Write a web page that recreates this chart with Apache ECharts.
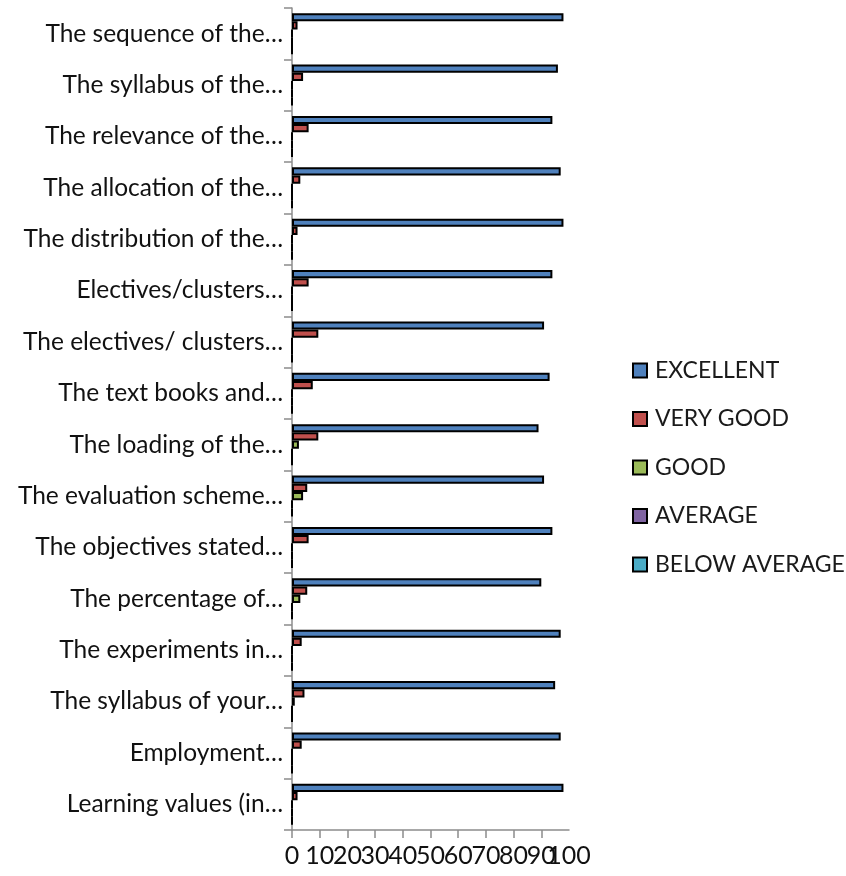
<!DOCTYPE html>
<html>
<head>
<meta charset="utf-8">
<title>Course evaluation</title>
<script src="https://cdn.jsdelivr.net/npm/echarts@6/dist/echarts.min.js"></script>
<style>
    html, body { margin: 0; padding: 0; background: #fff; }
    #chart { width: 846px; height: 876px; }
</style>
</head>
<body>
<div id="chart"></div>
<script>
// categories, top to bottom as in the picture
var categories = [
    'The sequence of the…',
    'The syllabus of the…',
    'The relevance of the…',
    'The allocation of the…',
    'The distribution of the…',
    'Electives/clusters…',
    'The electives/ clusters…',
    'The text books and…',
    'The loading of the…',
    'The evaluation scheme…',
    'The objectives stated…',
    'The percentage of…',
    'The experiments in…',
    'The syllabus of your…',
    'Employment…',
    'Learning values (in…'
];
var excellent    = [98, 96, 94, 97, 98, 94, 91, 93, 89, 91, 94, 90, 97, 95, 97, 98];
var veryGood     = [2, 4, 6, 3, 2, 6, 9.5, 7.5, 9.5, 5.5, 6, 5.5, 3.5, 4.5, 3.5, 2];
var good         = [0, 0, 0, 0, 0, 0, 0, 0, 2.5, 4, 0, 3, 0, 1, 0, 0];
var average      = [0, 0, 0, 0, 0, 0, 0, 0, 0, 0, 0, 0, 0, 0, 0, 0];
var belowAverage = [0, 0, 0, 0, 0, 0, 0, 0, 0, 0, 0, 0, 0, 0, 0, 0];

var seriesNames  = ['EXCELLENT', 'VERY GOOD', 'GOOD', 'AVERAGE', 'BELOW AVERAGE'];
var seriesData   = [excellent, veryGood, good, average, belowAverage];
var seriesColors = ['#4F81BD', '#C0504D', '#9BBB59', '#8064A2', '#4BACC6'];

var axisMin = 0, axisMax = 100, axisStep = 10;

var font = 'Lato';
var axisGrey = '#8c8c8c';

var myChart = echarts.init(document.getElementById('chart'));

var tickLabel = {
    margin: 13,
    fontFamily: font,
    fontSize: 25,
    color: '#111'
};

var option = {
    animation: false,
    backgroundColor: '#fff',
    grid: {
        left: 292,
        right: 277,
        top: 8,
        bottom: 46
    },
    legend: {
        orient: 'vertical',
        left: 632,
        top: 359,
        padding: 0,
        itemWidth: 14,
        itemHeight: 14,
        itemGap: 25.5,
        icon: 'rect',
        textStyle: {
            fontFamily: font,
            fontSize: 23,
            color: '#1a1a1a',
            padding: [0, 0, 0, 3]
        },
        data: seriesNames
    },
    xAxis: [
        {
            // main value axis: line, ticks and labels 0..90
            type: 'value',
            min: axisMin,
            max: axisMax,
            interval: axisStep,
            splitLine: { show: false },
            axisLine: { show: true, lineStyle: { color: axisGrey, width: 1.5 } },
            axisTick: { show: true, length: 8, lineStyle: { color: axisGrey, width: 1.5 } },
            axisLabel: Object.assign({ showMaxLabel: false }, tickLabel)
        },
        {
            // the "100" label overlaps "90" in the original, so it sits on its own axis
            type: 'value',
            position: 'bottom',
            min: axisMin,
            max: axisMax,
            interval: axisMax - axisMin,
            splitLine: { show: false },
            axisLine: { show: false },
            axisTick: { show: false },
            axisLabel: Object.assign({
                formatter: function (v) { return v === axisMax ? String(v) : ''; }
            }, tickLabel)
        }
    ],
    yAxis: {
        type: 'category',
        inverse: true,
        data: categories,
        axisLine: { show: true, lineStyle: { color: axisGrey, width: 1.5 } },
        axisTick: { show: true, length: 8, lineStyle: { color: axisGrey, width: 1.5 } },
        axisLabel: {
            margin: 9,
            fontFamily: font,
            fontSize: 24.5,
            color: '#111'
        }
    },
    series: seriesNames.map(function (name, i) {
        return {
            name: name,
            type: 'bar',
            data: seriesData[i],
            barGap: '0%',
            barCategoryGap: '20%',
            itemStyle: {
                color: seriesColors[i],
                borderColor: '#000',
                borderWidth: 2
            }
        };
    })
};

myChart.setOption(option);
</script>
</body>
</html>
